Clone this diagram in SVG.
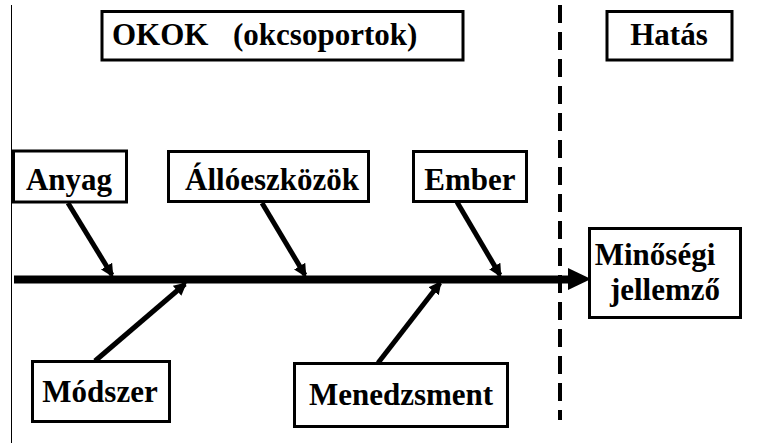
<svg xmlns="http://www.w3.org/2000/svg" width="760" height="443" viewBox="0 0 760 443">
  <style>
    .box { fill: #ffffff; stroke: #000000; stroke-width: 3; }
    text { font-family: 'Liberation Serif', 'Times New Roman', serif; font-weight: 700; font-size: 31px; fill: #000000; text-anchor: middle; }
    .bone { stroke: #000000; stroke-width: 5; fill: none; marker-end: url(#tip); }
  </style>
  <defs>
    <marker id="tip" viewBox="0 0 10 10" refX="8" refY="5" markerWidth="2.6" markerHeight="2.6" orient="auto" markerUnits="strokeWidth">
      <path d="M0,0 L10,5 L0,10 z" fill="#000000"/>
    </marker>
  </defs>
  <rect width="760" height="443" fill="#ffffff"/>

  <!-- left margin rule -->
  <line x1="11.5" y1="5" x2="11.5" y2="443" stroke="#000000" stroke-width="1"/>

  <!-- dashed separator between causes and effect -->
  <line x1="560" y1="5" x2="560" y2="420" stroke="#000000" stroke-width="4" stroke-dasharray="18 9"/>

  <!-- connectors -->
  <g id="connectors">
    <!-- main spine -->
    <line x1="14" y1="279.5" x2="572" y2="279.5" stroke="#000000" stroke-width="8"/>
    <path d="M568,268 L591,279 L568,290 z" fill="#000000"/>
    <!-- cause bones -->
    <line class="bone" x1="68" y1="203" x2="112" y2="275"/>
    <line class="bone" x1="262" y1="203" x2="305" y2="275"/>
    <line class="bone" x1="457" y1="202" x2="500" y2="275"/>
    <line class="bone" x1="95" y1="361" x2="185" y2="284"/>
    <line class="bone" x1="378" y1="363" x2="440" y2="283"/>
  </g>

  <g id="okok">
    <rect class="box" x="102" y="11.5" width="361" height="48.5"/>
    <text x="112" y="45" style="text-anchor:start">OKOK<tspan x="233">(okcsoportok)</tspan></text>
  </g>

  <g id="hatas">
    <rect class="box" x="607" y="11.5" width="125" height="48.5"/>
    <text x="669" y="45">Hatás</text>
  </g>

  <g id="anyag">
    <rect class="box" x="13.5" y="151" width="113" height="51"/>
    <text x="69" y="190">Anyag</text>
  </g>

  <g id="alloeszkozok">
    <rect class="box" x="168.5" y="151.5" width="200" height="50"/>
    <text x="272" y="190">Állóeszközök</text>
  </g>

  <g id="ember">
    <rect class="box" x="413.5" y="151.5" width="113" height="50"/>
    <text x="470" y="190">Ember</text>
  </g>

  <g id="minosegi-jellemzo">
    <rect class="box" x="589.5" y="228.5" width="151" height="89"/>
    <text x="655" y="265">Minőségi</text>
    <text x="665" y="300">jellemző</text>
  </g>

  <g id="modszer">
    <rect class="box" x="32.5" y="361.5" width="137" height="60"/>
    <text x="100" y="402">Módszer</text>
  </g>

  <g id="menedzsment">
    <rect class="box" x="294.5" y="363.5" width="213" height="63"/>
    <text x="401" y="405">Menedzsment</text>
  </g>
</svg>
